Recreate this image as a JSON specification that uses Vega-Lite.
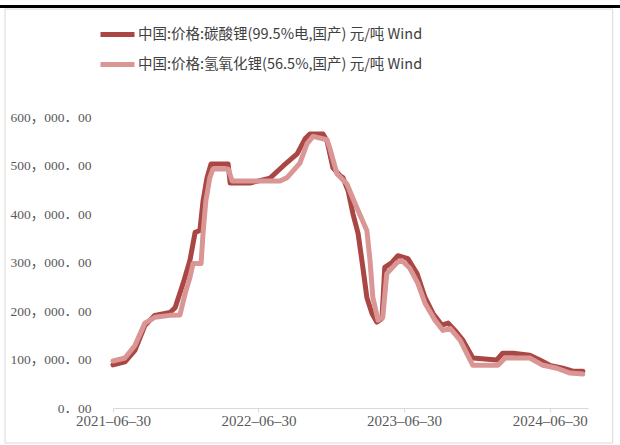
{
  "$schema": "https://vega.github.io/schema/vega-lite/v6.json",
  "width": 475,
  "height": 291,
  "autosize": {"type": "none"},
  "padding": {"left": 113, "top": 117, "right": 32, "bottom": 37},
  "background": "white",
  "config": {"view": {"stroke": null}},
  "datasets": {
    "prices": [
      {"date": "2021-06-30", "series": "碳酸锂", "price": 89000},
      {"date": "2021-07-30", "series": "碳酸锂", "price": 95000},
      {"date": "2021-08-24", "series": "碳酸锂", "price": 119000},
      {"date": "2021-09-18", "series": "碳酸锂", "price": 170000},
      {"date": "2021-10-13", "series": "碳酸锂", "price": 191000},
      {"date": "2021-11-20", "series": "碳酸锂", "price": 197000},
      {"date": "2021-12-03", "series": "碳酸锂", "price": 207000},
      {"date": "2021-12-23", "series": "碳酸锂", "price": 257000},
      {"date": "2022-01-09", "series": "碳酸锂", "price": 304000},
      {"date": "2022-01-22", "series": "碳酸锂", "price": 362000},
      {"date": "2022-02-03", "series": "碳酸锂", "price": 366000},
      {"date": "2022-02-11", "series": "碳酸锂", "price": 427000},
      {"date": "2022-02-21", "series": "碳酸锂", "price": 475000},
      {"date": "2022-03-03", "series": "碳酸锂", "price": 503000},
      {"date": "2022-04-15", "series": "碳酸锂", "price": 503000},
      {"date": "2022-04-20", "series": "碳酸锂", "price": 464000},
      {"date": "2022-06-09", "series": "碳酸锂", "price": 464000},
      {"date": "2022-07-29", "series": "碳酸锂", "price": 474000},
      {"date": "2022-08-31", "series": "碳酸锂", "price": 499000},
      {"date": "2022-10-05", "series": "碳酸锂", "price": 524000},
      {"date": "2022-10-25", "series": "碳酸锂", "price": 555000},
      {"date": "2022-11-06", "series": "碳酸锂", "price": 565000},
      {"date": "2022-12-09", "series": "碳酸锂", "price": 565000},
      {"date": "2022-12-19", "series": "碳酸锂", "price": 551000},
      {"date": "2023-01-03", "series": "碳酸锂", "price": 495000},
      {"date": "2023-01-21", "series": "碳酸锂", "price": 479000},
      {"date": "2023-01-28", "series": "碳酸锂", "price": 475000},
      {"date": "2023-02-10", "series": "碳酸锂", "price": 448000},
      {"date": "2023-02-22", "series": "碳酸锂", "price": 401000},
      {"date": "2023-03-07", "series": "碳酸锂", "price": 360000},
      {"date": "2023-03-19", "series": "碳酸锂", "price": 290000},
      {"date": "2023-03-29", "series": "碳酸锂", "price": 228000},
      {"date": "2023-04-11", "series": "碳酸锂", "price": 195000},
      {"date": "2023-04-23", "series": "碳酸锂", "price": 177000},
      {"date": "2023-05-06", "series": "碳酸锂", "price": 185000},
      {"date": "2023-05-13", "series": "碳酸锂", "price": 290000},
      {"date": "2023-05-31", "series": "碳酸锂", "price": 300000},
      {"date": "2023-06-15", "series": "碳酸锂", "price": 314000},
      {"date": "2023-07-10", "series": "碳酸锂", "price": 308000},
      {"date": "2023-08-02", "series": "碳酸锂", "price": 277000},
      {"date": "2023-08-22", "series": "碳酸锂", "price": 228000},
      {"date": "2023-09-11", "series": "碳酸锂", "price": 195000},
      {"date": "2023-10-03", "series": "碳酸锂", "price": 171000},
      {"date": "2023-10-19", "series": "碳酸锂", "price": 175000},
      {"date": "2023-11-05", "series": "碳酸锂", "price": 160000},
      {"date": "2023-11-25", "series": "碳酸锂", "price": 140000},
      {"date": "2023-12-20", "series": "碳酸锂", "price": 103000},
      {"date": "2024-02-18", "series": "碳酸锂", "price": 99000},
      {"date": "2024-03-04", "series": "碳酸锂", "price": 113000},
      {"date": "2024-03-30", "series": "碳酸锂", "price": 113000},
      {"date": "2024-05-11", "series": "碳酸锂", "price": 109000},
      {"date": "2024-06-05", "series": "碳酸锂", "price": 99000},
      {"date": "2024-06-30", "series": "碳酸锂", "price": 88000},
      {"date": "2024-08-02", "series": "碳酸锂", "price": 82000},
      {"date": "2024-08-27", "series": "碳酸锂", "price": 76000},
      {"date": "2024-09-21", "series": "碳酸锂", "price": 76000},

      {"date": "2021-06-30", "series": "氢氧化锂", "price": 97000},
      {"date": "2021-07-30", "series": "氢氧化锂", "price": 103000},
      {"date": "2021-08-24", "series": "氢氧化锂", "price": 129000},
      {"date": "2021-09-18", "series": "氢氧化锂", "price": 175000},
      {"date": "2021-10-13", "series": "氢氧化锂", "price": 187000},
      {"date": "2021-11-20", "series": "氢氧化锂", "price": 191000},
      {"date": "2021-12-15", "series": "氢氧化锂", "price": 192000},
      {"date": "2021-12-28", "series": "氢氧化锂", "price": 236000},
      {"date": "2022-01-09", "series": "氢氧化锂", "price": 269000},
      {"date": "2022-01-17", "series": "氢氧化锂", "price": 298000},
      {"date": "2022-02-06", "series": "氢氧化锂", "price": 298000},
      {"date": "2022-02-11", "series": "氢氧化锂", "price": 360000},
      {"date": "2022-02-18", "series": "氢氧化锂", "price": 427000},
      {"date": "2022-02-28", "series": "氢氧化锂", "price": 475000},
      {"date": "2022-03-08", "series": "氢氧化锂", "price": 493000},
      {"date": "2022-04-15", "series": "氢氧化锂", "price": 493000},
      {"date": "2022-04-25", "series": "氢氧化锂", "price": 468000},
      {"date": "2022-08-23", "series": "氢氧化锂", "price": 468000},
      {"date": "2022-09-10", "series": "氢氧化锂", "price": 475000},
      {"date": "2022-10-12", "series": "氢氧化锂", "price": 505000},
      {"date": "2022-10-30", "series": "氢氧化锂", "price": 545000},
      {"date": "2022-11-14", "series": "氢氧化锂", "price": 560000},
      {"date": "2022-12-19", "series": "氢氧化锂", "price": 553000},
      {"date": "2022-12-26", "series": "氢氧化锂", "price": 536000},
      {"date": "2023-01-13", "series": "氢氧化锂", "price": 483000},
      {"date": "2023-02-07", "series": "氢氧化锂", "price": 462000},
      {"date": "2023-03-04", "series": "氢氧化锂", "price": 413000},
      {"date": "2023-03-29", "series": "氢氧化锂", "price": 366000},
      {"date": "2023-04-06", "series": "氢氧化锂", "price": 304000},
      {"date": "2023-04-13", "series": "氢氧化锂", "price": 228000},
      {"date": "2023-04-26", "series": "氢氧化锂", "price": 181000},
      {"date": "2023-05-08", "series": "氢氧化锂", "price": 187000},
      {"date": "2023-05-18", "series": "氢氧化锂", "price": 277000},
      {"date": "2023-06-13", "series": "氢氧化锂", "price": 300000},
      {"date": "2023-06-25", "series": "氢氧化锂", "price": 304000},
      {"date": "2023-07-15", "series": "氢氧化锂", "price": 288000},
      {"date": "2023-08-04", "series": "氢氧化锂", "price": 257000},
      {"date": "2023-08-22", "series": "氢氧化锂", "price": 216000},
      {"date": "2023-09-16", "series": "氢氧化锂", "price": 181000},
      {"date": "2023-10-06", "series": "氢氧化锂", "price": 160000},
      {"date": "2023-10-24", "series": "氢氧化锂", "price": 164000},
      {"date": "2023-11-18", "series": "氢氧化锂", "price": 140000},
      {"date": "2023-12-20", "series": "氢氧化锂", "price": 88000},
      {"date": "2024-02-21", "series": "氢氧化锂", "price": 88000},
      {"date": "2024-03-10", "series": "氢氧化锂", "price": 103000},
      {"date": "2024-05-11", "series": "氢氧化锂", "price": 103000},
      {"date": "2024-06-13", "series": "氢氧化锂", "price": 88000},
      {"date": "2024-07-18", "series": "氢氧化锂", "price": 82000},
      {"date": "2024-08-20", "series": "氢氧化锂", "price": 72000},
      {"date": "2024-09-21", "series": "氢氧化锂", "price": 70000}
    ]
  },
  "layer": [
    {
      "description": "light grey frame around the figure",
      "data": {"values": [{}]},
      "mark": {"type": "rect", "fillOpacity": 0, "stroke": "#d9d9d9", "strokeWidth": 1, "clip": false},
      "encoding": {
        "x": {"datum": {"year": 2020, "month": 10, "date": 2, "utc": true}, "type": "temporal",
              "scale": {"type": "utc", "domain": [{"year": 2021, "month": 6, "date": 30, "utc": true}, {"year": 2024, "month": 10, "date": 4, "utc": true}]}},
        "x2": {"datum": {"year": 2024, "month": 12, "date": 5, "utc": true}},
        "y": {"datum": 822680, "type": "quantitative", "scale": {"domain": [0, 600000]}},
        "y2": {"datum": -72165}
      }
    },
    {
      "description": "black rule under the page header",
      "data": {"values": [{}]},
      "mark": {"type": "rule", "color": "#000000", "strokeWidth": 3, "clip": false},
      "encoding": {
        "x": {"datum": {"year": 2020, "month": 8, "date": 1, "utc": true}, "type": "temporal",
              "scale": {"type": "utc", "domain": [{"year": 2021, "month": 6, "date": 30, "utc": true}, {"year": 2024, "month": 10, "date": 4, "utc": true}]}},
        "x2": {"datum": {"year": 2025, "month": 2, "date": 1, "utc": true}},
        "y": {"datum": 828000, "type": "quantitative", "scale": {"domain": [0, 600000]}}
      }
    },
    {
      "data": {"name": "prices"},
      "transform": [
        {"calculate": "datum.series === '碳酸锂' ? '中国:价格:碳酸锂(99.5%电,国产) 元/吨 Wind' : '中国:价格:氢氧化锂(56.5%,国产) 元/吨 Wind'", "as": "label"}
      ],
      "mark": {"type": "line", "strokeWidth": 5, "strokeCap": "round", "strokeJoin": "round", "interpolate": "linear"},
      "encoding": {
        "x": {
          "field": "date", "type": "temporal",
          "scale": {"type": "utc", "domain": [{"year": 2021, "month": 6, "date": 30, "utc": true}, {"year": 2024, "month": 10, "date": 4, "utc": true}]},
          "axis": {
            "title": null,
            "values": [
              {"year": 2021, "month": 6, "date": 30, "utc": true},
              {"year": 2022, "month": 6, "date": 30, "utc": true},
              {"year": 2023, "month": 6, "date": 30, "utc": true},
              {"year": 2024, "month": 6, "date": 30, "utc": true}
            ],
            "format": "%Y–%m–%d",
            "grid": false,
            "domainColor": "#d9d9d9",
            "domainWidth": 1,
            "tickColor": "#d9d9d9",
            "tickSize": 4,
            "labelFont": "Liberation Serif",
            "labelFontSize": 15,
            "labelColor": "#595959",
            "labelPadding": 1,
            "labelFlush": false,
            "labelOverlap": false
          }
        },
        "y": {
          "field": "price", "type": "quantitative",
          "scale": {"domain": [0, 600000]},
          "axis": {
            "title": null,
            "values": [0, 100000, 200000, 300000, 400000, 500000, 600000],
            "labelExpr": "replace(replace(format(datum.value, ',.2f'), ',', '，'), '.', '．')",
            "grid": false,
            "domain": false,
            "ticks": false,
            "tickSize": 0,
            "labelPadding": 22,
            "labelFont": "Liberation Serif, Noto Sans CJK SC",
            "labelFontSize": 13.5,
            "labelColor": "#595959"
          }
        },
        "color": {
          "field": "label", "type": "nominal",
          "sort": ["中国:价格:碳酸锂(99.5%电,国产) 元/吨 Wind", "中国:价格:氢氧化锂(56.5%,国产) 元/吨 Wind"],
          "scale": {"range": ["#AA4644", "#D99694"]},
          "legend": {
            "title": null,
            "orient": "none",
            "legendX": -15,
            "legendY": -102,
            "direction": "vertical",
            "padding": 0,
            "symbolType": "stroke",
            "symbolSize": 1156,
            "symbolStrokeWidth": 5,
            "labelFont": "Noto Sans CJK SC",
            "labelFontSize": 14.5,
            "labelColor": "#404040",
            "labelOffset": 1,
            "labelLimit": 400,
            "rowPadding": -6
          }
        },
        "order": {"field": "series", "sort": "descending"}
      }
    }
  ]
}
